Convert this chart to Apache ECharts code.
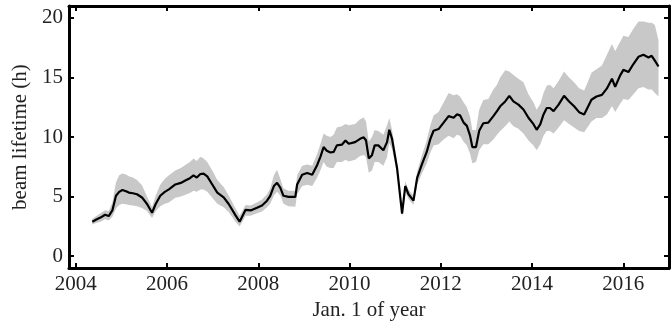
<!DOCTYPE html>
<html>
<head>
<meta charset="utf-8">
<script src="https://cdn.jsdelivr.net/npm/echarts@6/dist/echarts.min.js"></script>
<style>
html,body{margin:0;padding:0;background:#fff;}
#chart{width:672px;height:326px;}
</style>
</head>
<body>
<div id="chart"></div>
<script>
const years = [2004.36,2004.46,2004.54,2004.64,2004.72,2004.80,2004.88,2004.95,2005.02,2005.10,2005.16,2005.25,2005.34,2005.45,2005.56,2005.67,2005.75,2005.85,2005.95,2006.04,2006.18,2006.30,2006.40,2006.50,2006.58,2006.65,2006.73,2006.80,2006.88,2006.99,2007.10,2007.24,2007.35,2007.50,2007.59,2007.72,2007.83,2007.97,2008.08,2008.19,2008.26,2008.34,2008.41,2008.48,2008.55,2008.66,2008.81,2008.85,2008.96,2009.07,2009.18,2009.29,2009.36,2009.43,2009.50,2009.58,2009.65,2009.72,2009.83,2009.91,2009.98,2010.12,2010.23,2010.31,2010.36,2010.42,2010.49,2010.55,2010.63,2010.74,2010.82,2010.87,2010.93,2011.04,2011.15,2011.22,2011.29,2011.40,2011.48,2011.58,2011.69,2011.77,2011.84,2011.95,2012.06,2012.17,2012.28,2012.35,2012.42,2012.50,2012.57,2012.64,2012.69,2012.77,2012.84,2012.93,2013.04,2013.15,2013.23,2013.30,2013.41,2013.50,2013.59,2013.70,2013.81,2013.92,2014.03,2014.10,2014.18,2014.25,2014.32,2014.39,2014.47,2014.58,2014.70,2014.81,2014.92,2015.03,2015.14,2015.23,2015.30,2015.41,2015.53,2015.64,2015.75,2015.82,2015.93,2016.00,2016.11,2016.22,2016.33,2016.44,2016.55,2016.62,2016.69,2016.77];
const lifetime = [2.89,3.10,3.24,3.48,3.37,3.84,5.07,5.40,5.56,5.45,5.34,5.28,5.20,4.93,4.38,3.65,4.38,5.07,5.40,5.61,6.02,6.15,6.35,6.55,6.79,6.60,6.90,6.93,6.70,6.02,5.34,4.93,4.38,3.43,2.89,3.89,3.84,4.06,4.25,4.66,5.07,5.89,6.16,5.75,5.07,4.98,4.98,6.02,6.84,6.98,6.84,7.66,8.34,9.16,8.85,8.70,8.75,9.30,9.36,9.71,9.44,9.57,9.85,9.98,9.71,8.21,8.48,9.30,9.30,8.89,9.57,10.61,9.85,7.39,3.57,5.89,5.20,4.66,6.57,7.66,8.75,9.85,10.53,10.67,11.21,11.76,11.62,11.90,11.82,11.21,10.94,10.12,9.16,9.16,10.53,11.16,11.21,11.76,12.17,12.58,12.99,13.46,12.99,12.72,12.31,11.62,11.08,10.61,11.08,11.90,12.44,12.44,12.17,12.72,13.46,12.99,12.58,12.09,11.90,12.58,13.13,13.40,13.54,14.08,14.90,14.22,15.18,15.64,15.45,16.13,16.74,16.90,16.68,16.82,16.41,15.92];
const bandLow = [2.65,2.80,2.90,3.10,3.00,3.30,4.00,4.30,4.40,4.35,4.30,4.25,4.20,4.05,3.80,3.20,3.80,4.20,4.40,4.50,4.90,5.00,5.15,5.30,5.50,5.40,5.60,5.60,5.40,4.90,4.40,4.10,3.70,2.90,2.50,3.40,3.40,3.60,3.75,4.10,4.40,5.10,5.40,5.10,4.40,4.20,4.15,5.20,5.90,6.00,5.90,6.60,7.20,7.90,7.50,7.40,7.40,7.90,7.90,8.10,7.95,8.10,8.40,8.50,8.30,7.00,7.20,7.90,7.90,7.60,8.30,9.50,9.00,6.90,3.30,5.40,4.80,4.30,6.00,6.90,7.80,8.70,9.30,9.40,9.80,10.10,9.90,10.20,10.10,9.60,9.30,8.60,7.80,7.90,8.90,9.40,9.40,9.80,10.20,10.50,10.90,11.30,10.90,10.70,10.30,9.70,9.30,8.90,9.40,10.10,10.50,10.50,10.30,10.80,11.40,11.10,10.80,10.50,10.40,10.90,11.30,11.60,11.60,11.90,12.60,12.10,12.80,13.20,13.10,13.60,14.10,14.20,14.00,14.00,13.70,13.40];
const bandHigh = [3.15,3.40,3.60,3.85,3.80,4.50,6.20,6.80,6.95,6.85,6.70,6.60,6.40,5.95,5.00,4.10,5.10,6.00,6.50,6.80,7.20,7.40,7.65,7.90,8.20,8.00,8.35,8.20,7.90,7.20,6.40,5.80,5.10,4.00,3.40,4.30,4.25,4.50,4.75,5.20,5.70,6.80,7.25,6.50,5.70,5.50,5.50,6.80,7.60,7.70,7.60,8.60,9.40,10.30,10.10,10.00,10.20,10.80,10.90,11.10,11.00,11.10,11.50,11.65,11.30,9.60,10.00,10.60,10.50,10.20,11.00,11.60,10.60,7.90,3.90,6.30,5.60,5.10,7.10,8.40,9.70,11.00,11.80,12.10,12.90,13.70,13.50,13.60,13.40,12.90,12.50,11.70,10.60,10.60,12.30,13.10,13.20,14.00,14.40,15.00,15.60,15.50,15.20,14.90,14.60,13.60,12.90,12.30,12.80,13.70,14.30,14.40,14.10,14.70,15.50,15.00,14.60,14.10,13.90,14.70,15.40,15.70,16.00,16.90,17.80,17.20,18.00,18.50,18.40,19.10,19.70,19.70,19.60,19.60,19.40,18.10];
const xTicks = [2004,2006,2008,2010,2012,2014,2016];
const yTicks = [0,5,10,15,20];

const FONT = 'Liberation Serif';
const chart = echarts.init(document.getElementById('chart'), null, {renderer:'canvas'});

const axisLine = {show:true, onZero:false, lineStyle:{color:'#000', width:3}};
const tick = (vals) => ({show:true, inside:true, length:5, customValues:vals, lineStyle:{color:'#000', width:2}});

chart.setOption({
  animation:false,
  backgroundColor:'#fff',
  grid:{left:69, top:6, width:600, height:271, containLabel:false},
  xAxis:[
    {type:'value', min:2003.85, max:2017.0, position:'bottom',
     axisLine:axisLine, axisTick:tick(xTicks), splitLine:{show:false},
     axisLabel:{customValues:xTicks, formatter:v=>String(v), fontFamily:FONT, fontSize:21, color:'#222', margin:6},
     name:'Jan. 1 of year', nameLocation:'middle', nameGap:28,
     nameTextStyle:{fontFamily:FONT, fontSize:21, color:'#222'}},
    {type:'value', min:2003.85, max:2017.0, position:'top',
     axisLine:axisLine, axisTick:tick(xTicks), splitLine:{show:false},
     axisLabel:{show:false}}
  ],
  yAxis:[
    {type:'value', min:-1, max:21, position:'left',
     axisLine:axisLine, axisTick:tick(yTicks), splitLine:{show:false},
     axisLabel:{customValues:yTicks, formatter:v=>String(v), fontFamily:FONT, fontSize:21, color:'#222', margin:6},
     name:'beam lifetime (h)', nameLocation:'middle', nameGap:36, nameRotate:90,
     nameTextStyle:{fontFamily:FONT, fontSize:21, color:'#222'}},
    {type:'value', min:-1, max:21, position:'right',
     axisLine:axisLine, axisTick:tick(yTicks), splitLine:{show:false},
     axisLabel:{show:false}}
  ],
  series:[
    {type:'custom', silent:true, z:1,
     data:[[years[0], bandLow[0]]],
     renderItem:function(params, api){
       if (params.dataIndex !== 0) return null;
       const pts = [];
       for (let i = 0; i < years.length; i++) pts.push(api.coord([years[i], bandHigh[i]]));
       for (let i = years.length - 1; i >= 0; i--) pts.push(api.coord([years[i], bandLow[i]]));
       return {type:'polygon', shape:{points:pts}, style:{fill:'#c8c8c8', stroke:null}};
     }},
    {type:'line', z:3, showSymbol:false, silent:true,
     data:years.map((y,i)=>[y, lifetime[i]]),
     lineStyle:{color:'#000', width:2.2}}
  ]
});
</script>
</body>
</html>
